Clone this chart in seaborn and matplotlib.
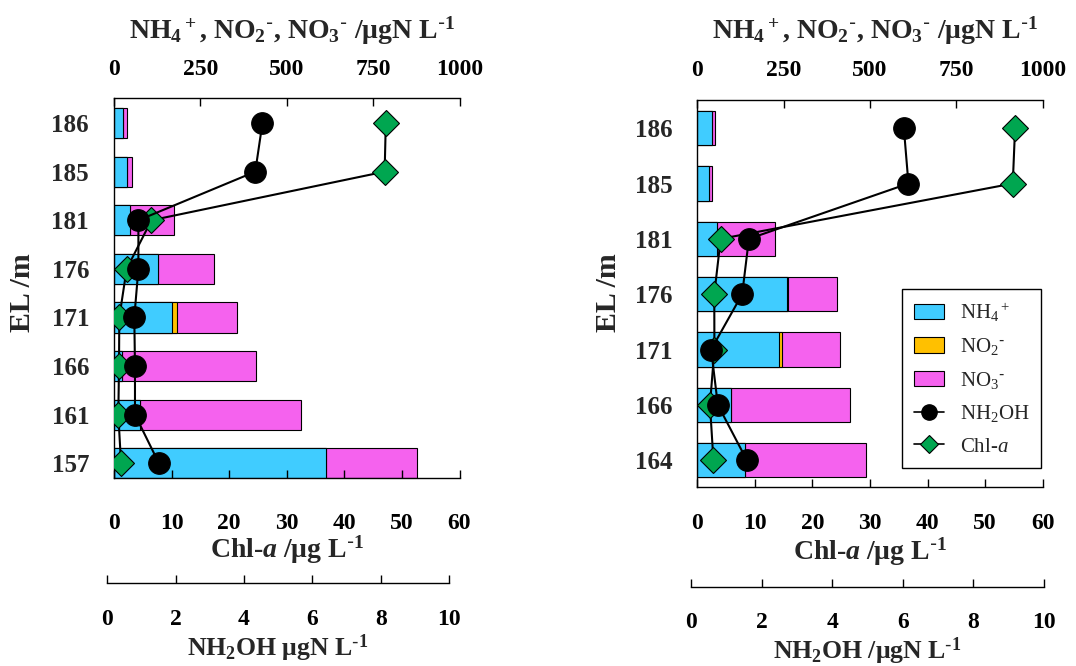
import numpy as np
import matplotlib
matplotlib.use("Agg")
import matplotlib.pyplot as plt
import seaborn as sns
from matplotlib.patches import Patch
from matplotlib.lines import Line2D

# ---- profile A (left) ----
el_a = ["186", "185", "181", "176", "171", "166", "161", "157"]
nh4_a = [25, 39, 46, 126, 168, 24, 75, 614]
no2_a = [0, 0, 0, 2, 13, 0, 0, 0]
no3_a = [14, 13, 128, 162, 176, 386, 465, 262]
chla_a = [47.2, 47.0, 6.5, 2.2, 0.92, 0.87, 0.75, 1.22]
nh2oh_a = [4.54, 4.33, 0.91, 0.91, 0.79, 0.81, 0.81, 1.51]

# ---- profile B (right) ----
el_b = ["186", "185", "181", "176", "171", "166", "164"]
nh4_b = [43, 35, 56, 261, 236, 99, 138]
no2_b = [0, 0, 0, 3, 10, 0, 0]
no3_b = [8, 8, 169, 140, 166, 342, 349]
chla_b = [55.2, 54.8, 4.06, 2.95, 2.97, 2.2, 2.8]
nh2oh_b = [6.03, 6.16, 1.64, 1.45, 0.57, 0.76, 1.58]

n_ticks = [0, 250, 500, 750, 1000]
chl_ticks = [0, 10, 20, 30, 40, 50, 60]
oh_ticks = [0, 2, 4, 6, 8, 10]

C_NH4 = "#40CCFF"
C_NO2 = "#FFC000"
C_NO3 = "#F562EE"
C_CHL = "#00A650"

sns.set_style("white")
plt.rcParams["font.family"] = ["Liberation Serif", "DejaVu Serif"]
plt.rcParams["mathtext.fontset"] = "custom"
plt.rcParams["mathtext.default"] = "regular"
plt.rcParams["mathtext.it"] = "Liberation Serif:italic:bold"
plt.rcParams["mathtext.sf"] = "Liberation Serif:italic"
plt.rcParams["axes.linewidth"] = 1.0

W, H = 1076, 666
fig = plt.figure(figsize=(W / 100, H / 100), dpi=100)
PT = 0.72  # points per pixel at 100 dpi

XTICK_FS = 17
YTICK_FS = 18
LAB_FS = 20
OH_FS = 18.5
HY = r"{}^{\text{-}}"

N_LABEL = (r"NH$_4{}^+$, NO$_2" + HY + "$, NO$_3" + HY + r"$ /μgN L$^{\text{-}1}$")
CHL_LABEL = r"Chl-$\it{a}$ /μg L$^{\text{-}1}$"


def rect(x0, x1, y0, y1):
    return [x0 / W, 1 - y1 / H, (x1 - x0) / W, (y1 - y0) / H]


def style_x(ax, ticks, pad, top=False):
    ax.set_xticks(ticks)
    ax.set_xticklabels([str(t) for t in ticks], fontsize=XTICK_FS, fontweight="bold")
    ax.tick_params(axis="x", direction="in", length=6, width=1, pad=pad,
                   colors="black", top=top, bottom=not top,
                   labeltop=top, labelbottom=not top)


def panel(main_px, oh_px, el, nh4, no2, no3, chla, oh, ylim, pads, oh_off,
          oh_label, label_pos, legend=False):
    x0, x1, y0, y1 = main_px
    nh4 = np.array(nh4, float)
    no2 = np.array(no2, float)
    no3 = np.array(no3, float)
    pos = np.arange(len(el))
    xc = (x0 + x1) / 2

    # stacked nitrogen bars on the top axis
    ax = fig.add_axes(rect(x0, x1, y0, y1))
    for vals, col in [(nh4 + no2 + no3, C_NO3), (nh4 + no2, C_NO2), (nh4, C_NH4)]:
        sns.barplot(x=vals, y=el, order=el, orient="h", color=col, saturation=1,
                    edgecolor="black", linewidth=0.8, width=0.62, ax=ax)
    ax.set_xlim(0, 1000)
    ax.set_ylim(*ylim)
    ax.xaxis.tick_top()
    ax.xaxis.set_label_position("top")
    style_x(ax, n_ticks, pads[0], top=True)
    ax.tick_params(axis="y", length=0, pad=18)
    for t in ax.get_yticklabels():
        t.set_fontsize(YTICK_FS)
        t.set_fontweight("bold")
    ax.set_ylabel("")
    for s in ["right", "bottom"]:
        ax.spines[s].set_visible(False)
    for s in ["top", "left"]:
        ax.spines[s].set_color("black")
    ax.set_xlabel(N_LABEL, fontsize=LAB_FS, fontweight="bold", va="center")
    ax.xaxis.set_label_coords((xc + 5) / W, 1 - label_pos[0] / H,
                              transform=fig.transFigure)

    # chlorophyll-a on the bottom axis
    axc = fig.add_axes(rect(x0, x1, y0, y1))
    axc.patch.set_visible(False)
    sns.lineplot(x=chla, y=pos, sort=False, estimator=None, ax=axc, color="black",
                 linewidth=1.5, marker="D", markersize=13, markerfacecolor=C_CHL,
                 markeredgecolor="black", markeredgewidth=0.8)
    axc.set_xlim(0, 60)
    axc.set_ylim(*ylim)
    axc.set_yticks([])
    axc.set_ylabel("")
    style_x(axc, chl_ticks, pads[1])
    for s in ["right", "top", "left"]:
        axc.spines[s].set_visible(False)
    axc.spines["bottom"].set_color("black")
    axc.set_xlabel(CHL_LABEL, fontsize=LAB_FS, fontweight="bold", va="center")
    axc.xaxis.set_label_coords(xc / W, 1 - label_pos[1] / H,
                               transform=fig.transFigure)

    # hydroxylamine on a detached lower axis
    ox0, ox1 = oh_px
    axo = fig.add_axes(rect(ox0, ox1, y0, y1))
    axo.patch.set_visible(False)
    for s in ["right", "top", "left"]:
        axo.spines[s].set_visible(False)
    axo.spines["bottom"].set_position(("outward", oh_off * PT))
    axo.spines["bottom"].set_color("black")
    sns.lineplot(x=oh, y=pos, sort=False, estimator=None, ax=axo, color="black",
                 linewidth=1.5, marker="o", markersize=15.6, markerfacecolor="black",
                 markeredgecolor="black")
    axo.set_xlim(0, 10)
    axo.set_ylim(*ylim)
    axo.set_yticks([])
    axo.set_ylabel("")
    style_x(axo, oh_ticks, pads[2])
    axo.set_xlabel(oh_label, fontsize=OH_FS, fontweight="bold", va="center")
    axo.xaxis.set_label_coords((ox0 + ox1) / 2 / W, 1 - label_pos[2] / H,
                               transform=fig.transFigure)

    # elevation label
    fig.text(label_pos[3] / W, 1 - 293 / H, "EL /m", rotation=90,
             fontsize=21.5, fontweight="bold", ha="center", va="center")

    if legend:
        handles = [
            Patch(facecolor=C_NH4, edgecolor="black", linewidth=0.8),
            Patch(facecolor=C_NO2, edgecolor="black", linewidth=0.8),
            Patch(facecolor=C_NO3, edgecolor="black", linewidth=0.8),
            Line2D([], [], color="black", linewidth=1.2, marker="o", markersize=11,
                   markerfacecolor="black"),
            Line2D([], [], color="black", linewidth=1.2, marker="D", markersize=9,
                   markerfacecolor=C_CHL, markeredgecolor="black", markeredgewidth=0.8),
        ]
        labels = [r"NH$_4{}^+$", "NO$_2" + HY + "$", "NO$_3" + HY + "$", r"NH$_2$OH",
                  r"Chl-$\mathsf{a}$"]
        leg = axo.legend(handles, labels, loc="upper right",
                         bbox_to_anchor=(1040.7 / W, 1 - 289.3 / H),
                         bbox_transform=fig.transFigure, fontsize=15,
                         frameon=True, fancybox=False, edgecolor="black",
                         framealpha=1, handlelength=1.45, handleheight=0.75,
                         labelspacing=0.6, borderpad=0.55, handletextpad=0.75,
                         borderaxespad=0)
        leg.get_frame().set_linewidth(1.0)


panel((114, 459.5, 98.3, 478.3), (107.3, 449), el_a, nh4_a, no2_a, no3_a, chla_a,
      nh2oh_a, (7.31, -0.51), pads=(13, 25, 19), oh_off=104.4,
      oh_label=r"NH$_2$OH μgN L$^{\text{-}1}$", label_pos=(31, 550, 648, 23))

panel((697.3, 1042.7, 100, 486.7), (691, 1044), el_b, nh4_b, no2_b, no3_b, chla_b,
      nh2oh_b, (6.48, -0.51), pads=(14, 19, 18), oh_off=100,
      oh_label=r"NH$_2$OH /μgN L$^{\text{-}1}$", label_pos=(31, 552, 651, 608),
      legend=True)

fig.savefig("out.png", dpi=100)
